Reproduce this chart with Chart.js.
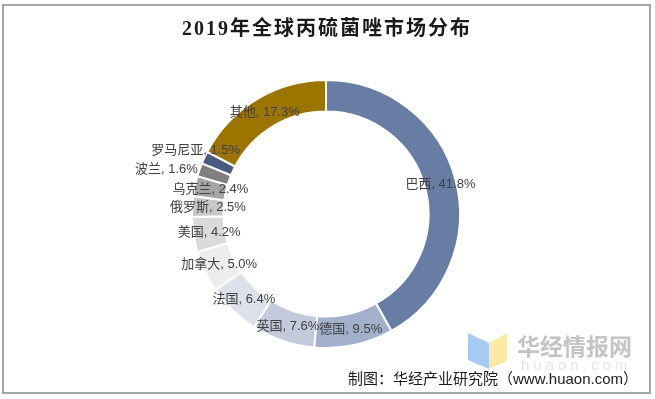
<!DOCTYPE html>
<html>
<head>
<meta charset="utf-8">
<script src="https://cdn.jsdelivr.net/npm/chart.js@4.4.1/dist/chart.umd.min.js"></script>
<style>
  html, body { margin: 0; padding: 0; background: #fff; }
  #wrap { position: relative; width: 655px; height: 399px; }
  canvas { display: block; }
</style>
</head>
<body>
<div id="wrap"><canvas id="c" width="655" height="399"></canvas></div>
<script>
// ---- data ----
const titleText = '2019年全球丙硫菌唑市场分布';
const categories = ['巴西', '德国', '英国', '法国', '加拿大', '美国', '俄罗斯', '乌克兰', '波兰', '罗马尼亚', '其他'];
const shares = [41.8, 9.5, 7.6, 6.4, 5.0, 4.2, 2.5, 2.4, 1.6, 1.5, 17.3];
const sourceText = '制图：华经产业研究院（www.huaon.com）';
const watermarkText = '华经情报网';
const watermarkSub = 'huaon.com';

// ---- styles ----
const sliceColors = ['#687DA4', '#A3B0CB', '#C3CADB', '#DCE1EB', '#EDEDED', '#DADADA',
                     '#C9C9C9', '#A5A5A5', '#808080', '#4A5B80', '#9C7500'];
// label nudges (px) for the crowded small slices
const labelNudgeX = [0, 0, 0, 0, 0, 0, 0, 0, -48, -23, 0];
const labelNudgeY = [0, 0, 0, 0, 0, 0, 0, 0, -5, -14, 0];

const decorPlugin = {
  id: 'decor',
  beforeDraw(chart) {
    const ctx = chart.ctx;
    ctx.save();
    ctx.fillStyle = '#fff';
    ctx.fillRect(0, 0, chart.width, chart.height);
    // watermark logo
    ctx.fillStyle = '#A8CBF6';
    ctx.beginPath();
    ctx.moveTo(468, 333); ctx.lineTo(489, 343); ctx.lineTo(489, 369); ctx.lineTo(468, 360);
    ctx.closePath(); ctx.fill();
    ctx.fillStyle = '#FBEAA3';
    ctx.beginPath();
    ctx.moveTo(489, 343); ctx.lineTo(507, 333); ctx.lineTo(507, 361); ctx.lineTo(489, 369);
    ctx.closePath(); ctx.fill();
    ctx.fillStyle = '#C4C4C4';
    ctx.font = 'bold 23px "Noto Sans CJK SC", sans-serif';
    ctx.textAlign = 'left';
    ctx.textBaseline = 'middle';
    ctx.fillText(watermarkText, 517, 346);
    ctx.fillStyle = '#E6E6E6';
    ctx.font = '15px "Liberation Sans", sans-serif';
    ctx.letterSpacing = '4px';
    ctx.fillText(watermarkSub, 521, 366);
    ctx.letterSpacing = '0px';
    ctx.restore();
  },
  afterDatasetsDraw(chart) {
    const ctx = chart.ctx;
    const meta = chart.getDatasetMeta(0);
    ctx.save();
    ctx.font = '13px "Liberation Sans", "Noto Sans CJK SC", sans-serif';
    ctx.fillStyle = '#404040';
    ctx.textAlign = 'center';
    ctx.textBaseline = 'middle';
    meta.data.forEach((arc, i) => {
      const p = arc.tooltipPosition();
      const txt = categories[i] + ', ' + shares[i].toFixed(1) + '%';
      ctx.fillText(txt, p.x + labelNudgeX[i], p.y + labelNudgeY[i]);
    });
    // title
    ctx.fillStyle = '#1a1a1a';
    ctx.font = 'bold 20px "Liberation Serif", "Noto Sans CJK SC", serif';
    ctx.letterSpacing = '2px';
    ctx.fillText(titleText, 327, 30);
    ctx.letterSpacing = '0px';
    // source
    ctx.fillStyle = '#1a1a1a';
    ctx.font = '15px "Liberation Sans", "Noto Sans CJK SC", sans-serif';
    ctx.textAlign = 'left';
    ctx.fillText(sourceText, 348, 380);
    // frame
    ctx.strokeStyle = '#A6A6A6';
    ctx.lineWidth = 2;
    ctx.strokeRect(3, 5, 647, 388);
    ctx.restore();
  }
};

new Chart(document.getElementById('c'), {
  type: 'doughnut',
  data: {
    labels: categories,
    datasets: [{
      data: shares,
      backgroundColor: sliceColors,
      borderColor: '#ffffff',
      borderWidth: 2
    }]
  },
  options: {
    responsive: false,
    animation: false,
    radius: 134,
    cutout: 101,
    rotation: 0,
    layout: { padding: { left: 0, right: 3, top: 81, bottom: 52 } },
    plugins: {
      legend: { display: false },
      title: { display: false },
      tooltip: { enabled: false }
    }
  },
  plugins: [decorPlugin]
});
</script>
</body>
</html>
